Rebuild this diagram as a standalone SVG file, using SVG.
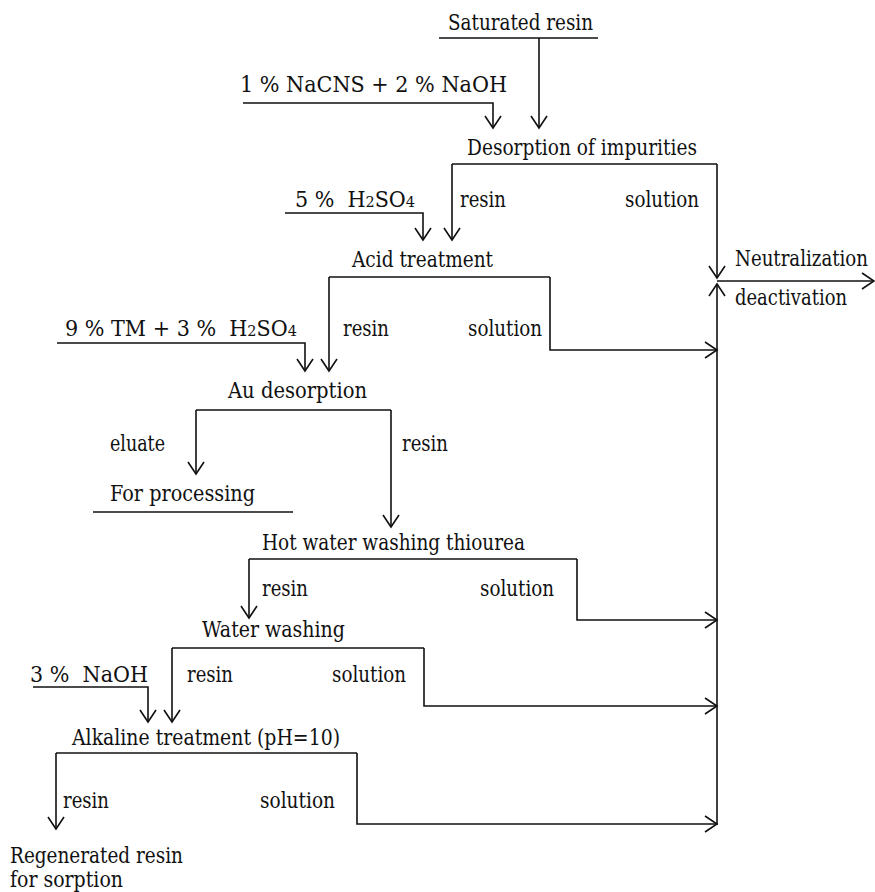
<svg xmlns="http://www.w3.org/2000/svg" width="875" height="892" viewBox="0 0 875 892">
<style>
.t text{font-size:21.5px;fill:#111}
.sub{font-size:15px}
.ln{fill:none;stroke:#111;stroke-width:1.6}
.ar{fill:none;stroke:#111;stroke-width:1.6;marker-end:url(#ah)}
</style>
<defs>
<marker id="ah" markerUnits="userSpaceOnUse" markerWidth="30" markerHeight="30" refX="15" refY="15" orient="auto" viewBox="0 0 30 30" overflow="visible">
<path d="M3,7 L15,15 L3,23" fill="none" stroke="#111" stroke-width="1.6"/>
</marker>
</defs>
<rect width="875" height="892" fill="#fff"/>
<g id="connectors">
<line class="ln" x1="439" y1="38" x2="598" y2="38"/>
<path class="ar" d="M539,38 V128"/>
<path class="ar" d="M243,103 H493 V128"/>
<line class="ln" x1="452" y1="164" x2="717" y2="164"/>
<path class="ar" d="M452,164 V240"/>
<path class="ar" d="M717,164 V278"/>
<path class="ar" d="M285,213 H423 V240"/>
<line class="ln" x1="329" y1="277" x2="550" y2="277"/>
<path class="ar" d="M329,277 V371"/>
<path class="ar" d="M550,277 V350 H717"/>
<path class="ar" d="M57,343 H305 V371"/>
<line class="ln" x1="196" y1="410" x2="391" y2="410"/>
<path class="ar" d="M196,410 V474"/>
<path class="ar" d="M391,410 V527"/>
<line class="ln" x1="93" y1="512" x2="293" y2="512"/>
<line class="ln" x1="249" y1="559" x2="577" y2="559"/>
<path class="ar" d="M249,559 V618"/>
<path class="ar" d="M577,559 V620 H717"/>
<line class="ln" x1="172" y1="648" x2="424" y2="648"/>
<path class="ar" d="M172,648 V722"/>
<path class="ar" d="M424,648 V706 H717"/>
<path class="ar" d="M33,687 H148 V722"/>
<line class="ln" x1="56" y1="753" x2="357" y2="753"/>
<path class="ar" d="M56,753 V829"/>
<path class="ar" d="M357,753 V824 H717"/>
<path class="ar" d="M717,825 V284"/>
<path class="ar" d="M717,281 H874"/>
</g>
<g class="t" font-family="'DejaVu Serif', serif">
<g id="saturated-resin"><text transform="translate(448,30) scale(0.85,1)" textLength="170.6" lengthAdjust="spacingAndGlyphs">Saturated resin</text></g>
<g id="reagent-nacns"><text transform="translate(240,92) scale(0.85,1)" textLength="314.1" lengthAdjust="spacingAndGlyphs">1 % NaCNS + 2 % NaOH</text></g>
<g id="desorption-impurities"><text transform="translate(467,155) scale(0.85,1)" textLength="270.6" lengthAdjust="spacingAndGlyphs">Desorption of impurities</text></g>
<g id="labels-desorption"><text transform="translate(460,207) scale(0.85,1)" textLength="54.1" lengthAdjust="spacingAndGlyphs">resin</text><text transform="translate(625,207) scale(0.85,1)" textLength="87.1" lengthAdjust="spacingAndGlyphs">solution</text></g>
<g id="reagent-h2so4"><text transform="translate(295,207) scale(0.85,1)" xml:space="preserve" textLength="141.2" lengthAdjust="spacingAndGlyphs">5 %  H<tspan class="sub">2</tspan>SO<tspan class="sub">4</tspan></text></g>
<g id="acid-treatment"><text transform="translate(352,267) scale(0.85,1)" textLength="165.9" lengthAdjust="spacingAndGlyphs">Acid treatment</text></g>
<g id="neutralization"><text transform="translate(735,266) scale(0.85,1)" textLength="156.5" lengthAdjust="spacingAndGlyphs">Neutralization</text><text transform="translate(735,305) scale(0.85,1)" textLength="131.8" lengthAdjust="spacingAndGlyphs">deactivation</text></g>
<g id="reagent-tm"><text transform="translate(65,336) scale(0.85,1)" xml:space="preserve" textLength="272.9" lengthAdjust="spacingAndGlyphs">9 % TM + 3 %  H<tspan class="sub">2</tspan>SO<tspan class="sub">4</tspan></text></g>
<g id="labels-acid"><text transform="translate(343,336) scale(0.85,1)" textLength="54.1" lengthAdjust="spacingAndGlyphs">resin</text><text transform="translate(468,336) scale(0.85,1)" textLength="87.1" lengthAdjust="spacingAndGlyphs">solution</text></g>
<g id="au-desorption"><text transform="translate(228,398) scale(0.85,1)" textLength="163.5" lengthAdjust="spacingAndGlyphs">Au desorption</text></g>
<g id="labels-au"><text transform="translate(110,451) scale(0.85,1)" textLength="64.7" lengthAdjust="spacingAndGlyphs">eluate</text><text transform="translate(402,451) scale(0.85,1)" textLength="54.1" lengthAdjust="spacingAndGlyphs">resin</text></g>
<g id="for-processing"><text transform="translate(110,501) scale(0.85,1)" textLength="170.6" lengthAdjust="spacingAndGlyphs">For processing</text></g>
<g id="hot-water-washing"><text transform="translate(262,550) scale(0.85,1)" textLength="309.4" lengthAdjust="spacingAndGlyphs">Hot water washing thiourea</text></g>
<g id="labels-hot"><text transform="translate(262,596) scale(0.85,1)" textLength="54.1" lengthAdjust="spacingAndGlyphs">resin</text><text transform="translate(480,596) scale(0.85,1)" textLength="87.1" lengthAdjust="spacingAndGlyphs">solution</text></g>
<g id="water-washing"><text transform="translate(202,637) scale(0.85,1)" textLength="168.2" lengthAdjust="spacingAndGlyphs">Water washing</text></g>
<g id="reagent-naoh"><text transform="translate(30,682) scale(0.85,1)" xml:space="preserve" textLength="138.8" lengthAdjust="spacingAndGlyphs">3 %  NaOH</text></g>
<g id="labels-water"><text transform="translate(187,682) scale(0.85,1)" textLength="54.1" lengthAdjust="spacingAndGlyphs">resin</text><text transform="translate(332,682) scale(0.85,1)" textLength="87.1" lengthAdjust="spacingAndGlyphs">solution</text></g>
<g id="alkaline-treatment"><text transform="translate(72,745) scale(0.85,1)" textLength="315.3" lengthAdjust="spacingAndGlyphs">Alkaline treatment (pH=10)</text></g>
<g id="labels-alkaline"><text transform="translate(63,808) scale(0.85,1)" textLength="54.1" lengthAdjust="spacingAndGlyphs">resin</text><text transform="translate(260,808) scale(0.85,1)" textLength="88.2" lengthAdjust="spacingAndGlyphs">solution</text></g>
<g id="regenerated-resin"><text transform="translate(10,863) scale(0.85,1)" textLength="203.5" lengthAdjust="spacingAndGlyphs">Regenerated resin</text><text transform="translate(10,887) scale(0.85,1)" textLength="132.9" lengthAdjust="spacingAndGlyphs">for sorption</text></g>
</g>
</svg>
